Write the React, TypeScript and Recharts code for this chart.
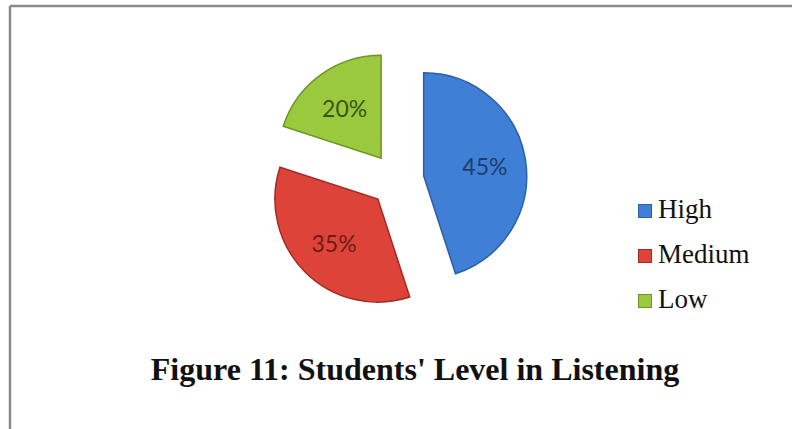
import React from 'react'
import { PieChart, Pie, Cell, Sector, Legend, Customized } from 'recharts'

const categories = ['High', 'Medium', 'Low']
const values = [45, 35, 20]
const title = "Figure 11: Students' Level in Listening"

const COLORS = ['#3f80d6', '#de4339', '#9bc93e']
const EDGE = ['#2b5fa8', '#a52a23', '#6d9622']
const LABEL_COLORS = ['#1d3d6c', '#6e1b17', '#3a5511']

const RAD = Math.PI / 180
const EXPLODE = 27

const data = categories.map((name, i) => ({ name, value: values[i] }))

const renderSlice = (props: any) => {
  const { cx, cy, midAngle, innerRadius, outerRadius, startAngle, endAngle, fill, stroke } = props
  const dx = EXPLODE * Math.cos(-RAD * midAngle)
  const dy = EXPLODE * Math.sin(-RAD * midAngle)
  return (
    <Sector
      cx={cx + dx}
      cy={cy + dy}
      innerRadius={innerRadius}
      outerRadius={outerRadius}
      startAngle={startAngle}
      endAngle={endAngle}
      fill={fill}
      stroke={stroke}
      strokeWidth={1.5}
    />
  )
}

const renderLabel = (props: any) => {
  const { cx, cy, midAngle, percent, index } = props
  const r = EXPLODE + 62
  const x = cx + r * Math.cos(-RAD * midAngle)
  const y = cy + r * Math.sin(-RAD * midAngle)
  return (
    <text
      x={x}
      y={y}
      fill={LABEL_COLORS[index]}
      textAnchor="middle"
      dominantBaseline="central"
      fontFamily="Lato, 'Open Sans', sans-serif"
      fontSize={23}
    >
      {`${Math.round(percent * 100)}%`}
    </text>
  )
}

const renderLegend = () => (
  <div style={{ fontFamily: "'Liberation Serif', 'Times New Roman', serif", fontSize: 27, color: '#111' }}>
    {categories.map((c, i) => (
      <div key={c} style={{ display: 'flex', alignItems: 'center', height: 45 }}>
        <span
          style={{
            display: 'inline-block',
            width: 12,
            height: 12,
            background: COLORS[i],
            border: `1px solid ${EDGE[i]}`,
            marginRight: 6,
            marginTop: 2,
          }}
        />
        <span>{c}</span>
      </div>
    ))}
  </div>
)

const Frame = () => (
  <g>
    <line x1={10} y1={6} x2={792} y2={6} stroke="#8a8a8a" strokeWidth={2.5} />
    <line x1={10} y1={6} x2={10} y2={429} stroke="#8a8a8a" strokeWidth={2.5} />
    <text
      x={415}
      y={380}
      textAnchor="middle"
      fontFamily="'Liberation Serif', 'Times New Roman', serif"
      fontWeight="bold"
      fontSize={32}
      fill="#111"
    >
      {title}
    </text>
  </g>
)

const App: React.FC = () => {
  return (
    <div style={{ position: 'absolute', left: 0, top: 0, width: 792, height: 429, background: '#fff' }}>
      <PieChart width={792} height={429} margin={{ top: 0, right: 0, bottom: 0, left: 0 }}>
        <Customized component={Frame} />
        <Pie
          data={data}
          dataKey="value"
          nameKey="name"
          cx={397}
          cy={180}
          outerRadius={103}
          startAngle={90}
          endAngle={-270}
          shape={renderSlice}
          label={renderLabel}
          labelLine={false}
          isAnimationActive={false}
        >
          {data.map((entry, index) => (
            <Cell key={entry.name} fill={COLORS[index]} stroke={EDGE[index]} />
          ))}
        </Pie>
        <Legend
          content={renderLegend}
          layout="vertical"
          wrapperStyle={{ position: 'absolute', left: 638, top: 187, width: 140, height: 140 }}
        />
      </PieChart>
    </div>
  )
}

export default App
